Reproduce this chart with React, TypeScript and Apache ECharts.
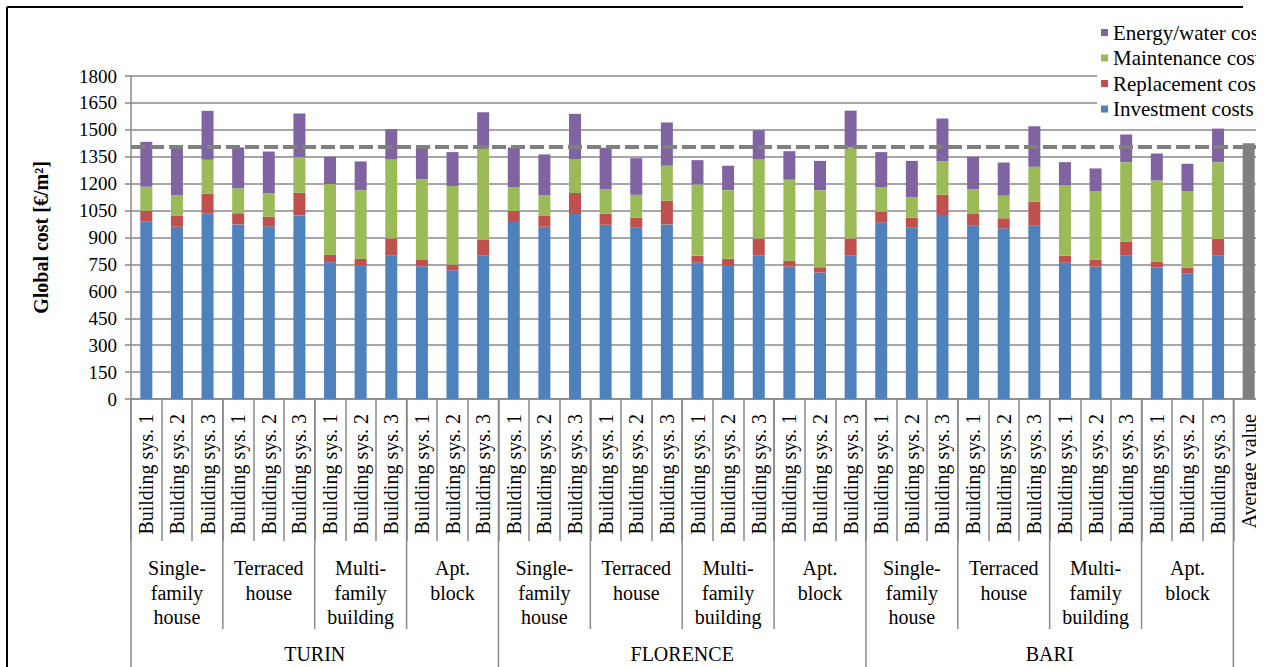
import React, { useEffect, useRef } from "react";
import * as echarts from "echarts";

const cities = ["TURIN", "FLORENCE", "BARI"];
const groups = ["Single-\nfamily\nhouse", "Terraced\nhouse", "Multi-\nfamily\nbuilding", "Apt.\nblock"];
const systems = ["Building sys. 1", "Building sys. 2", "Building sys. 3"];
const averageLabel = "Average value";

// Turin (12), Florence (12), Bari (12)
const investment = [
  990, 960, 1035, 973, 962, 1023, 762, 743, 801, 740, 717, 801,
  986, 960, 1031, 971, 957, 973, 760, 742, 801, 738, 705, 801,
  983, 957, 1025, 968, 951, 968, 760, 738, 801, 732, 701, 799,
];
const replacement = [
  59, 60, 109, 62, 54, 126, 41, 39, 94, 35, 32, 85,
  62, 60, 117, 62, 53, 132, 39, 39, 93, 33, 29, 93,
  61, 53, 113, 63, 56, 131, 39, 39, 76, 34, 31, 93,
];
const maintenance = [
  134, 115, 189, 139, 132, 199, 395, 382, 442, 450, 438, 514,
  133, 115, 187, 137, 128, 195, 397, 383, 443, 451, 430, 509,
  135, 115, 186, 137, 126, 195, 393, 382, 443, 452, 427, 428,
];
const energy = [
  250, 267, 273, 228, 231, 243, 152, 160, 167, 177, 189, 198,
  221, 228, 254, 230, 204, 241, 135, 136, 161, 159, 163, 204,
  197, 202, 239, 182, 185, 226, 128, 126, 154, 150, 152, 187,
];
const averageValue = 1425;
const averageLine = 1405;
const yTicks = { min: 0, max: 1800, interval: 150 };

const FONT = "Liberation Serif, Times New Roman, serif";

export default function App() {
  const ref = useRef<HTMLDivElement>(null);
  useEffect(() => {
    if (!ref.current) return;
    const chart = echarts.init(ref.current, null, { renderer: "svg" });
    const categories: string[] = [];
    cities.forEach(() => groups.forEach(() => systems.forEach((s) => categories.push(s))));
    categories.push(averageLabel);
    const pad = (a: number[]) => [...a, null];
    const avgData = categories.map((_, i) => (i === categories.length - 1 ? averageValue : null));
    const barW = 12;
    chart.setOption({
      animation: false,
      grid: { left: 131, right: 4, top: 76, bottom: 268, containLabel: false },
      legend: {
        left: 1097,
        top: 18,
        orient: "vertical",
        backgroundColor: "#ffffff",
        padding: [4, 10, 4, 4],
        itemWidth: 7,
        itemHeight: 7,
        itemGap: 4.5,
        icon: "rect",
        textStyle: { fontFamily: FONT, fontSize: 21, color: "#000", lineHeight: 21 },
        data: ["Energy/water costs", "Maintenance costs", "Replacement costs", "Investment costs"],
      },
      xAxis: {
        type: "category",
        data: categories,
        axisLine: { lineStyle: { color: "#8a8a8a", width: 1.5 } },
        axisTick: { show: true, interval: 0, length: 142, lineStyle: { color: "#8a8a8a", width: 1.5 } },
        axisLabel: {
          interval: 0,
          rotate: 90,
          margin: 15,
          fontFamily: FONT,
          fontSize: 20,
          color: "#000",
        },
      },
      yAxis: {
        type: "value",
        min: yTicks.min,
        max: yTicks.max,
        interval: yTicks.interval,
        name: "Global cost [€/m²]",
        nameLocation: "middle",
        nameGap: 80,
        nameTextStyle: { fontFamily: FONT, fontSize: 20, fontWeight: "bold", color: "#000" },
        axisLine: { show: true, lineStyle: { color: "#8a8a8a", width: 1.5 } },
        axisTick: { show: true, length: 6, lineStyle: { color: "#8a8a8a", width: 1.5 } },
        axisLabel: { fontFamily: FONT, fontSize: 19, color: "#000", margin: 14, formatter: (v: number) => String(v) },
        splitLine: { show: true, lineStyle: { color: "#8a8a8a", width: 1.5 } },
      },
      series: [
        {
          name: "Investment costs",
          type: "bar",
          stack: "total",
          barWidth: barW,
          barGap: "-100%",
          itemStyle: { color: "#4F81BD" },
          data: pad(investment),
          markLine: {
            silent: true,
            symbol: "none",
            label: { show: false },
            lineStyle: { color: "#808080", type: [14, 5], width: 4 },
            data: [{ yAxis: averageLine }],
          },
        },
        { name: "Replacement costs", type: "bar", stack: "total", barWidth: barW, itemStyle: { color: "#C0504D" }, data: pad(replacement) },
        { name: "Maintenance costs", type: "bar", stack: "total", barWidth: barW, itemStyle: { color: "#9BBB59" }, data: pad(maintenance) },
        { name: "Energy/water costs", type: "bar", stack: "total", barWidth: barW, itemStyle: { color: "#8064A2" }, data: pad(energy) },
        { name: "Average", type: "bar", stack: "avg", barWidth: barW, z: 6, itemStyle: { color: "#808080" }, data: avgData },
      ],
    });

    const cx = (i: number) => chart.convertToPixel({ xAxisIndex: 0 }, i) as number;
    const w = cx(1) - cx(0);
    const bx = (i: number) => cx(i) - w / 2;
    const axisY = 399;
    const lineStyle = { stroke: "#8a8a8a", lineWidth: 1.5 };
    const g: any[] = [];
    const nG = groups.length * systems.length;
    for (let c = 0; c < cities.length; c++) {
      for (let k = 1; k < groups.length; k++) {
        const x = bx(c * nG + k * systems.length);
        g.push({ type: "line", shape: { x1: x, y1: axisY, x2: x, y2: 629 }, style: lineStyle, silent: true });
      }
      for (let k = 0; k < groups.length; k++) {
        const mid = c * nG + k * systems.length + 1;
        g.push({
          type: "text",
          x: cx(mid),
          y: 556,
          style: { text: groups[k], fontFamily: FONT, fontSize: 20, lineHeight: 24.5, fill: "#000", align: "center", verticalAlign: "top" },
          silent: true,
        });
      }
      const cMid = (bx(c * nG) + bx((c + 1) * nG)) / 2;
      g.push({
        type: "text",
        x: cMid,
        y: 654,
        style: { text: cities[c], fontFamily: FONT, fontSize: 20, fill: "#000", align: "center", verticalAlign: "middle" },
        silent: true,
      });
    }
    for (let c = 0; c <= cities.length; c++) {
      const x = bx(c * nG);
      g.push({ type: "line", shape: { x1: x, y1: axisY, x2: x, y2: 667 }, style: lineStyle, silent: true });
    }
    g.push({ type: "rect", shape: { x: 1256, y: 0, width: 20, height: 667 }, style: { fill: "#fff" }, z: 100, silent: true });
    g.push({ type: "line", shape: { x1: 7, y1: 7, x2: 1243, y2: 7 }, style: { stroke: "#000", lineWidth: 2 }, z: 101, silent: true });
    g.push({ type: "line", shape: { x1: 7, y1: 7, x2: 7, y2: 667 }, style: { stroke: "#000", lineWidth: 2 }, z: 101, silent: true });
    chart.setOption({ graphic: g });

    return () => chart.dispose();
  }, []);
  return <div ref={ref} style={{ position: "absolute", left: 0, top: 0, width: 1268, height: 667, background: "#fff" }} />;
}
